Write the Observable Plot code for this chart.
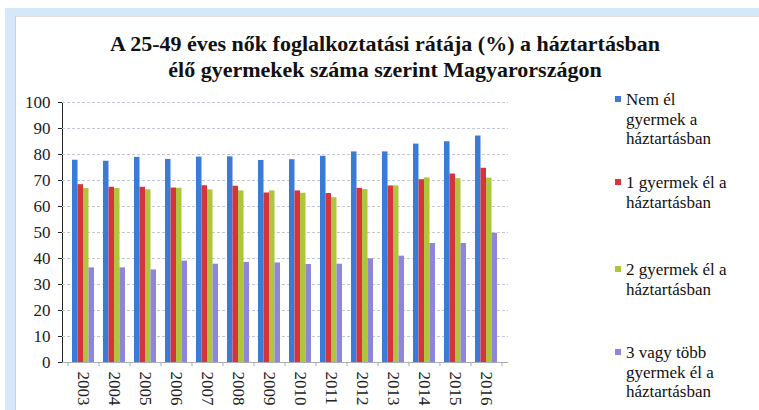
<!DOCTYPE html>
<html><head><meta charset="utf-8">
<script src="https://cdn.jsdelivr.net/npm/d3@7"></script>
<script src="https://cdn.jsdelivr.net/npm/@observablehq/plot@0.6"></script>
<style>
body{margin:0;background:#fff;}
#root{position:relative;width:759px;height:410px;overflow:hidden;background:#fff;font-family:"Liberation Serif","DejaVu Serif",serif;}
.frameTop{position:absolute;left:5px;top:8px;width:754px;height:8px;background:#d6e8f7;}
.frameLeft{position:absolute;left:5px;top:8px;width:10px;height:402px;background:#d6e8f7;}
.frameLine{position:absolute;left:15px;top:16px;width:744px;height:394px;border-left:1px solid #e3c9cf;border-top:1px solid #e3dde0;box-sizing:border-box;}
.title{position:absolute;left:0;top:31px;width:770px;text-align:center;font-weight:bold;font-size:22px;line-height:26px;color:#111;}
#chart{position:absolute;left:0;top:90px;}
.leg{position:absolute;left:626px;font-size:17px;line-height:19.5px;color:#111;}
.sw{position:absolute;left:-11px;top:6px;width:6px;height:6px;}
</style>
</head><body>
<div id="root">
  <div class="frameTop"></div>
  <div class="frameLeft"></div>
  <div class="frameLine"></div>
  <div class="title">A 25-49 éves nők foglalkoztatási rátája (%) a háztartásban<br>élő gyermekek száma szerint Magyarországon</div>
  <div id="chart"></div>
  <div id="legend"></div>
</div>
<script>
const years = ["2003","2004","2005","2006","2007","2008","2009","2010","2011","2012","2013","2014","2015","2016"];
const seriesNames = ["Nem él gyermek a háztartásban","1 gyermek él a háztartásban","2 gyermek él a háztartásban","3 vagy több gyermek él a háztartásban"];
const legendLines = [["Nem él","gyermek a","háztartásban"],["1 gyermek él a","háztartásban"],["2 gyermek él a","háztartásban"],["3 vagy több","gyermek él a","háztartásban"]];
const nemEl  = [77.8,77.4,78.9,78.1,79.0,79.1,77.7,78.0,79.3,81.0,81.0,84.0,84.9,87.1];
const egy    = [68.4,67.4,67.4,67.1,68.0,67.8,65.2,66.0,65.0,67.0,67.9,70.3,72.5,74.7];
const ketto  = [66.9,66.9,66.4,67.0,66.4,66.0,66.0,65.1,63.4,66.5,67.9,71.0,70.7,70.9];
const harom  = [36.4,36.4,35.6,39.0,37.8,38.5,38.3,37.7,37.8,39.9,40.9,45.8,45.8,49.7];
const yTicks = [0,10,20,30,40,50,60,70,80,90,100];
const colors = ["#3b7bd8","#d6343c","#b0c43c","#8d87dc"];

const allSeries = [nemEl, egy, ketto, harom];
const data = [];
allSeries.forEach((vals, si) => vals.forEach((v, yi) => data.push({year: years[yi], series: seriesNames[si], si, value: v})));

const FONT = '"Liberation Serif","DejaVu Serif",serif';
const PIN = 0.28, POUT = 0.14;
function make(bw, step) {
  const marks = [
    Plot.ruleY(yTicks.filter(d => d > 0), {stroke: "#c3c6d4", strokeDasharray: "3,2"}),
  ];
  for (let i = 0; i < 4; i++) {
    marks.push(Plot.barY(data.filter(d => d.si === i), {
      x: "year", y: "value", fill: "series",
      insetLeft: bw * i / 4, insetRight: bw * (3 - i) / 4
    }));
  }
  marks.push(Plot.ruleY([0], {stroke: "#a9abb8"}));
  marks.push(Plot.ruleX(years, {x: d => d, y1: 0, y2: -1.6, dx: -step / 2, stroke: "#a9abb8"}));
  marks.push(Plot.ruleX([years[years.length - 1]], {x: d => d, y1: 0, y2: -1.6, dx: step / 2, stroke: "#a9abb8"}));
  return Plot.plot({
    width: 530, height: 320,
    marginLeft: 62, marginRight: 22, marginTop: 12, marginBottom: 48,
    style: {fontFamily: FONT, fontSize: "17px", color: "#222", background: "transparent"},
    x: {domain: years, paddingInner: PIN, paddingOuter: POUT, tickSize: 0, tickRotate: 90, tickPadding: 9, label: null},
    y: {domain: [0, 100], ticks: yTicks, tickSize: 4, tickPadding: 8, label: null, line: true},
    color: {domain: seriesNames, range: colors},
    marks
  });
}
let p = make(20, 30);
const xs = p.scale("x");
const bw = xs.bandwidth;
const step = xs.step || bw / (1 - PIN);
p = make(bw, step);
p.querySelectorAll('[aria-label="y-axis"] path, [aria-label="y-axis"] line').forEach(e => e.setAttribute("stroke", "#a9abb8"));
document.getElementById("chart").appendChild(p);

const tops = [90, 173, 260, 343];
const leg = document.getElementById("legend");
legendLines.forEach((lines, i) => {
  const d = document.createElement("div");
  d.className = "leg";
  d.style.top = tops[i] + "px";
  d.innerHTML = `<span class="sw" style="background:${colors[i]}"></span>` + lines.join("<br>");
  leg.appendChild(d);
});
</script>
</body></html>
